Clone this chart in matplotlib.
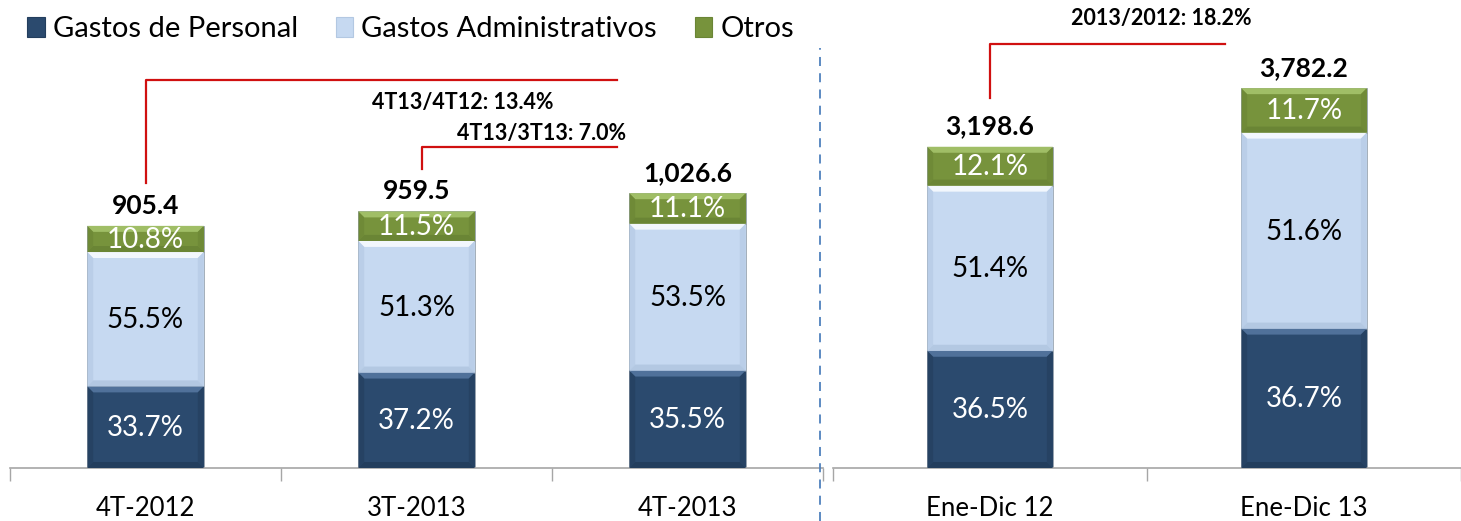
import matplotlib.pyplot as plt
from matplotlib.patches import Polygon, Patch
from matplotlib.lines import Line2D

plt.rcParams['font.family'] = ['Lato', 'DejaVu Sans']

## datos
cats_trim = ['4T-2012', '3T-2013', '4T-2013']
tot_trim = [905.4, 959.5, 1026.6]
pers_trim = [33.7, 37.2, 35.5]
admin_trim = [55.5, 51.3, 53.5]
otros_trim = [10.8, 11.5, 11.1]

cats_anual = ['Ene-Dic 12', 'Ene-Dic 13']
tot_anual = [3198.6, 3782.2]
pers_anual = [36.5, 36.7]
admin_anual = [51.4, 51.6]
otros_anual = [12.1, 11.7]

series = ['Gastos de Personal', 'Gastos Administrativos', 'Otros']
colores = ['#2B4A6E', '#C6D9F1', '#77933C']
claros = ['#50719A', '#F2F7FD', '#A0BE66']
oscuros = ['#233E5D', '#B3C8E2', '#6A8535']
txt_col = ['white', 'black', 'white']
rojo = '#D01010'

W, H = 1461, 521
fig = plt.figure(figsize=(W / 100, H / 100), dpi=100)
ax1 = fig.add_axes([10 / W, 53 / H, 813 / W, 468 / H])
ax2 = fig.add_axes([833 / W, 53 / H, 628 / W, 468 / H])


def bisel(ax, b, k, dxp=6, dyp=6):
    # efecto biselado tipo excel
    bb = ax.get_window_extent()
    x0l, x1l = ax.get_xlim()
    y0l, y1l = ax.get_ylim()
    dx = dxp * (x1l - x0l) / bb.width
    dy = dyp * (y1l - y0l) / bb.height
    x0, y0 = b.get_x(), b.get_y()
    x1, y1 = x0 + b.get_width(), y0 + b.get_height()
    dy = min(dy, b.get_height() / 3)
    ax.add_patch(Polygon([(x0, y1), (x1, y1), (x1 - dx, y1 - dy), (x0 + dx, y1 - dy)],
                         closed=True, color=claros[k], lw=0, zorder=3))
    ax.add_patch(Polygon([(x0, y0), (x0 + dx, y0 + dy), (x0 + dx, y1 - dy), (x0, y1)],
                         closed=True, color=oscuros[k], lw=0, zorder=3, alpha=0.6))
    ax.add_patch(Polygon([(x1, y0), (x1 - dx, y0 + dy), (x1 - dx, y1 - dy), (x1, y1)],
                         closed=True, color=oscuros[k], lw=0, zorder=3, alpha=0.6))
    ax.add_patch(Polygon([(x0, y0), (x1, y0), (x1 - dx, y0 + dy), (x0 + dx, y0 + dy)],
                         closed=True, color=oscuros[k], lw=0, zorder=3))


def panel(ax, cats, tots, pcts, width, xmax, ymax):
    n = len(cats)
    x = list(range(n))
    ax.set_xlim(-0.5, xmax)
    ax.set_ylim(0, ymax)
    bottom = [0] * n
    for k, pp in enumerate(pcts):
        h = [t * p / 100 for t, p in zip(tots, pp)]
        bars = ax.bar(x, h, width, bottom=bottom, color=colores[k], zorder=2,
                      edgecolor='#9AA5B0', linewidth=0.6)
        for b, p in zip(bars, pp):
            bisel(ax, b, k)
            ax.text(b.get_x() + b.get_width() / 2, b.get_y() + b.get_height() / 2 - 2 * ymax / 1000,
                    f'{p:.1f}%', ha='center', va='center', color=txt_col[k],
                    fontsize=20, zorder=5)
        bottom = [bo + hh for bo, hh in zip(bottom, h)]
    for xi, t in zip(x, tots):
        ax.annotate(f'{t:,.1f}', (xi, t), xytext=(0, 6), textcoords='offset points',
                    ha='center', va='bottom', fontsize=19, fontweight='bold')
    ax.set_xticks(x, cats)
    ax.set_xticks([i - 0.5 for i in range(n + 1)], minor=True)
    ax.tick_params(axis='x', which='major', length=0, labelsize=18.5, pad=20)
    ax.tick_params(axis='x', which='minor', length=9, color='#A6A6A6', width=1)
    ax.set_yticks([])
    for s in ['top', 'left', 'right']:
        ax.spines[s].set_visible(False)
    ax.spines['bottom'].set_color('#A6A6A6')
    ax.spines['bottom'].set_linewidth(1.2)
    ax.patch.set_alpha(0)


panel(ax1, cats_trim, tot_trim, [pers_trim, admin_trim, otros_trim], 0.43, 2.5, 1750)
panel(ax2, cats_anual, tot_anual, [pers_anual, admin_anual, otros_anual], 0.40, 1.487, 4660)

## lineas de variacion
ax1.plot([0, 0, 1.74], [1065, 1450, 1450], color=rojo, lw=1.6, zorder=4)
ax1.plot([1.02, 1.02, 1.74], [1118, 1200, 1200], color=rojo, lw=1.6, zorder=4)
ax1.text(1.17, 1368, '4T13/4T12: 13.4%', ha='center', va='center', fontsize=15.5, fontweight='bold')
ax1.text(1.46, 1252, '4T13/3T13: 7.0%', ha='center', va='center', fontsize=15.5, fontweight='bold')
ax2.plot([0, 0, 0.747], [3682, 4219, 4219], color=rojo, lw=1.6, zorder=4)
ax2.text(0.544, 4478, '2013/2012: 18.2%', ha='center', va='center', fontsize=15.5, fontweight='bold')

# separador
fig.add_artist(Line2D([820 / W, 820 / W], [0, 1 - 48 / H], color='#4F81BD', lw=1.3,
                      linestyle=(0, (5, 4))))

# leyenda
handles = [Patch(facecolor=c, edgecolor=e, lw=0.8) for c, e in zip(colores, oscuros)]
fig.legend(handles, series, loc='center left', bbox_to_anchor=(27 / W, 1 - 29 / H), ncol=3,
           frameon=False, fontsize=21, handlelength=0.6, handleheight=0.68,
           handletextpad=0.28, columnspacing=1.3, borderaxespad=0, borderpad=0)

fig.savefig('out.png', dpi=100)
